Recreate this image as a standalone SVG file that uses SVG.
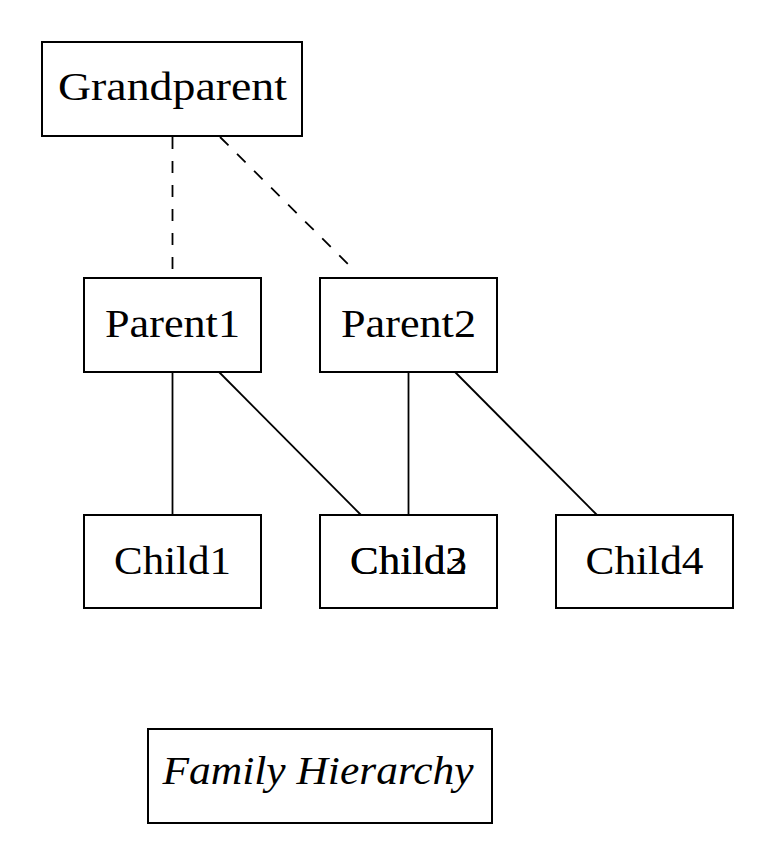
<svg xmlns="http://www.w3.org/2000/svg" width="776" height="866" viewBox="0 0 776 866">
<style>
.box{fill:#fff;stroke:#000;stroke-width:2}
.lbl{font-family:"Liberation Serif","Times New Roman",serif;font-size:41px;fill:#000;text-anchor:middle}
.it{font-style:italic}
.edge{stroke:#000;stroke-width:1.8;fill:none}
.dash{stroke-dasharray:12 12}
</style>
<rect width="776" height="866" fill="#fff"/>
<g id="connectors">
<line class="edge dash" x1="172.5" y1="137" x2="172.5" y2="275"/>
<line class="edge dash" x1="220" y1="137" x2="353" y2="269"/>
<line class="edge" x1="172.5" y1="372" x2="172.5" y2="515"/>
<line class="edge" x1="219" y1="372" x2="361" y2="515"/>
<line class="edge" x1="408.5" y1="372" x2="408.5" y2="515"/>
<line class="edge" x1="455" y1="372" x2="597" y2="515"/>
</g>
<g id="grandparent">
<rect class="box" x="42" y="42" width="260" height="94"/>
<text class="lbl" x="172.5" y="100" textLength="229" lengthAdjust="spacingAndGlyphs">Grandparent</text>
</g>
<g id="parent1">
<rect class="box" x="84" y="278" width="177" height="94"/>
<text class="lbl" x="172.5" y="337" textLength="135" lengthAdjust="spacingAndGlyphs">Parent1</text>
</g>
<g id="parent2">
<rect class="box" x="320" y="278" width="177" height="94"/>
<text class="lbl" x="408.5" y="337" textLength="135" lengthAdjust="spacingAndGlyphs">Parent2</text>
</g>
<g id="child1">
<rect class="box" x="84" y="515" width="177" height="93"/>
<text class="lbl" x="172.5" y="574" textLength="117" lengthAdjust="spacingAndGlyphs">Child1</text>
</g>
<g id="child2">
<rect class="box" x="320" y="515" width="177" height="93"/>
<text class="lbl" x="408.5" y="574" textLength="117" lengthAdjust="spacingAndGlyphs">Child2</text>
</g>
<g id="child3">
<rect class="box" x="320" y="515" width="177" height="93" style="fill:none"/>
<text class="lbl" x="408.5" y="574" textLength="117" lengthAdjust="spacingAndGlyphs">Child3</text>
</g>
<g id="child4">
<rect class="box" x="556" y="515" width="177" height="93"/>
<text class="lbl" x="644.5" y="574" textLength="118" lengthAdjust="spacingAndGlyphs">Child4</text>
</g>
<g id="caption">
<rect class="box" x="148" y="729" width="344" height="94"/>
<text class="lbl it" x="318" y="784" textLength="311" lengthAdjust="spacingAndGlyphs">Family Hierarchy</text>
</g>
</svg>
